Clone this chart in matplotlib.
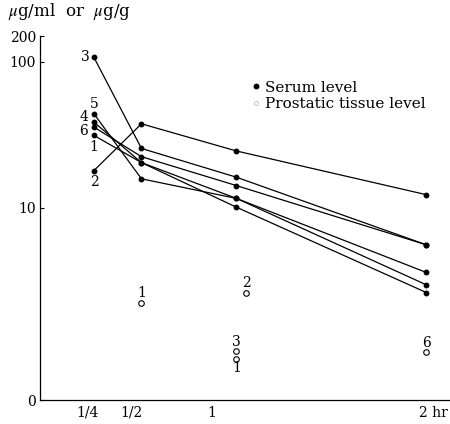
import matplotlib.pyplot as plt
from matplotlib.lines import Line2D
from matplotlib.transforms import ScaledTranslation

plt.rcParams['font.family'] = ['DejaVu Serif']
plt.rcParams['mathtext.fontset'] = 'stix'

# time after dosing (hr)
times = [0.25, 0.5, 1, 2]

# serum level, ug/ml, one row per patient
serum = {
    "3": [107, 25.5, 16.2, 5.58],
    "2": [18.0, 37.6, 24.5, 12.3],
    "6": [35.7, 22.4, 14.2, 5.58],
    "4": [38.6, 20.4, 11.6, 3.61],
    "1": [31.3, 20.4, 10.1, 2.63],
    "5": [44.0, 15.8, 11.6, 2.97],
}

# prostatic tissue level, ug/g
tissue_pat = ["1", "2", "3", "1", "6"]
tissue_t = [0.5, 1.05, 1, 1, 2]
tissue_val = [2.22, 2.61, 1.05, 0.92, 1.03]

# label offsets in pixels (dx, dy)
serum_lab_off = {"3": (-9, 0), "5": (0, 10), "4": (-10, 5), "6": (-10, -4),
                 "1": (0, -12), "2": (0, -11)}
tissue_lab_off = [(0, 10), (0, 10), (0, 9), (0, -9), (0, 9)]
xlab_shift = [-6, -10, -25, 7]

fig = plt.figure(figsize=(4.5, 4.24), dpi=100)
ax = fig.add_axes([40 / 450, 24 / 424, 410 / 450, 364 / 424])
ax.set_yscale("log")
ax.set_ylim(0.484, 150)
ax.set_xlim(-0.034, 2.124)

for pat, vals in serum.items():
    ax.plot(times, vals, color="black", lw=0.9, marker="o", ms=3.2)
    dx, dy = serum_lab_off[pat]
    ax.annotate(pat, (times[0], vals[0]), xytext=(dx * 0.72, dy * 0.72),
                textcoords="offset points", ha="center", va="center", fontsize=10)

ax.plot(tissue_t, tissue_val, ls="none", marker="o", ms=4, mfc="white",
        mec="black", mew=0.8)
for pat, t, v, (dx, dy) in zip(tissue_pat, tissue_t, tissue_val, tissue_lab_off):
    ax.annotate(pat, (t, v), xytext=(dx * 0.72, dy * 0.72),
                textcoords="offset points", ha="center", va="center", fontsize=10)

for s in ["top", "right"]:
    ax.spines[s].set_visible(False)
ax.spines["left"].set_linewidth(0.9)
ax.spines["bottom"].set_linewidth(0.9)

ax.set_yticks([0.484, 10, 100, 150])
ax.set_yticklabels(["0", "10", "100", "200"])
ax.minorticks_off()
ax.tick_params(axis="y", direction="in", length=3, labelsize=10, pad=3)
ax.set_xticks(times)
ax.set_xticklabels(["1/4", "1/2", "1", "2 hr"])
ax.tick_params(axis="x", length=0, labelsize=10, pad=4)
for lab, sh in zip(ax.get_xticklabels(), xlab_shift):
    lab.set_transform(lab.get_transform() + ScaledTranslation(sh / 100, 0, fig.dpi_scale_trans))

fig.text(8 / 450, 1 - 12 / 424, r"$\mu$g/ml  or  $\mu$g/g", fontsize=12,
         va="center", ha="left")

handles = [
    Line2D([], [], ls="none", marker="o", ms=3.2, color="black"),
    Line2D([], [], ls="none", marker="o", ms=3, mfc="white", mec="#bbbbbb", mew=0.6),
]
ax.legend(handles, ["Serum level", "Prostatic tissue level"], frameon=False,
          loc="upper left", bbox_to_anchor=(0.485, 0.915), handlelength=0.5,
          handletextpad=0.3, labelspacing=0.15, fontsize=11)

fig.savefig("out.png", dpi=100)
